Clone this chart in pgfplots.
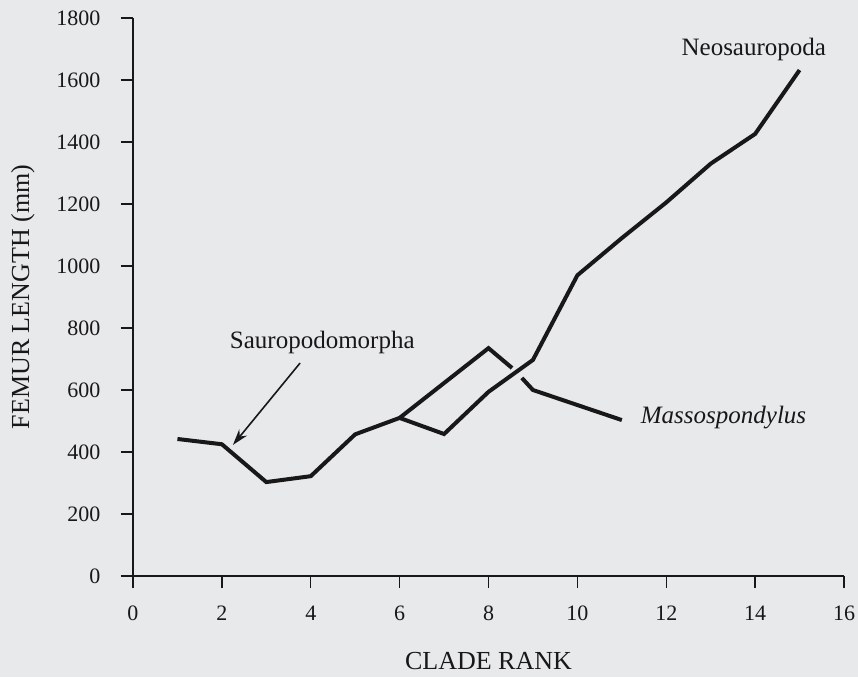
\documentclass[border=0pt]{standalone}
\usepackage{pgfplots}
\pgfplotsset{compat=1.18}
\usepackage{fontspec}
\setmainfont{Liberation Serif}
\usetikzlibrary{arrows.meta}
\definecolor{bgcol}{RGB}{232,233,235}
\definecolor{ink}{RGB}{24,24,24}
\begin{document}
\begin{tikzpicture}
\fill[bgcol] (-133pt,-101pt) rectangle (725pt,576pt);
\useasboundingbox (-133pt,-101pt) rectangle (725pt,576pt);
\begin{axis}[
  scale only axis, width=711pt, height=558pt,
  xmin=0, xmax=16, ymin=0, ymax=1800,
  axis lines*=left,
  axis line style={line width=1.6pt, color=ink},
  clip=false,
  xtick={0,2,...,16}, ytick={0,200,...,1800},
  tick align=outside, major tick length=12pt,
  tick style={line width=1.3pt, color=ink},
  /pgf/number format/assume math mode=true,
  /pgf/number format/1000 sep={},
  tick label style={font=\fontsize{22}{22}\selectfont, color=ink},
  xticklabel style={yshift=-14pt},
  yticklabel style={xshift=-17pt},
  xlabel={CLADE RANK}, ylabel={FEMUR LENGTH (mm)},
  label style={font=\fontsize{26}{26}\selectfont, color=ink},
  xlabel style={yshift=-25pt},
  ylabel style={yshift=15pt},
]
\addplot[ink, line width=4pt] coordinates {
 (1,442) (2,425) (3,303) (4,322) (5,457) (6,510) (7,458) (8,594) (9,697)
 (10,970) (11,1090) (12,1205) (13,1330) (14,1426) (15,1632)};
\addplot[ink, line width=4pt] coordinates {(6,510) (8,735) (8.53,671)};
\addplot[ink, line width=4pt] coordinates {(8.75,639) (9,600) (11,503)};
\node[font=\fontsize{25}{25}\selectfont, color=ink] at (axis cs:13.97,1700) {Neosauropoda};
\node[font=\fontsize{25}{25}\selectfont, color=ink] at (axis cs:4.26,752) {Sauropodomorpha};
\node[font=\fontsize{25}{25}\selectfont\itshape, color=ink, anchor=west] at (axis cs:11.35,510) {Massospondylus};
\draw[ink, line width=1.6pt, -{Stealth[length=16pt,width=10pt]}] (axis cs:3.76,687) -- (axis cs:2.25,423);
\end{axis}
\end{tikzpicture}
\end{document}
